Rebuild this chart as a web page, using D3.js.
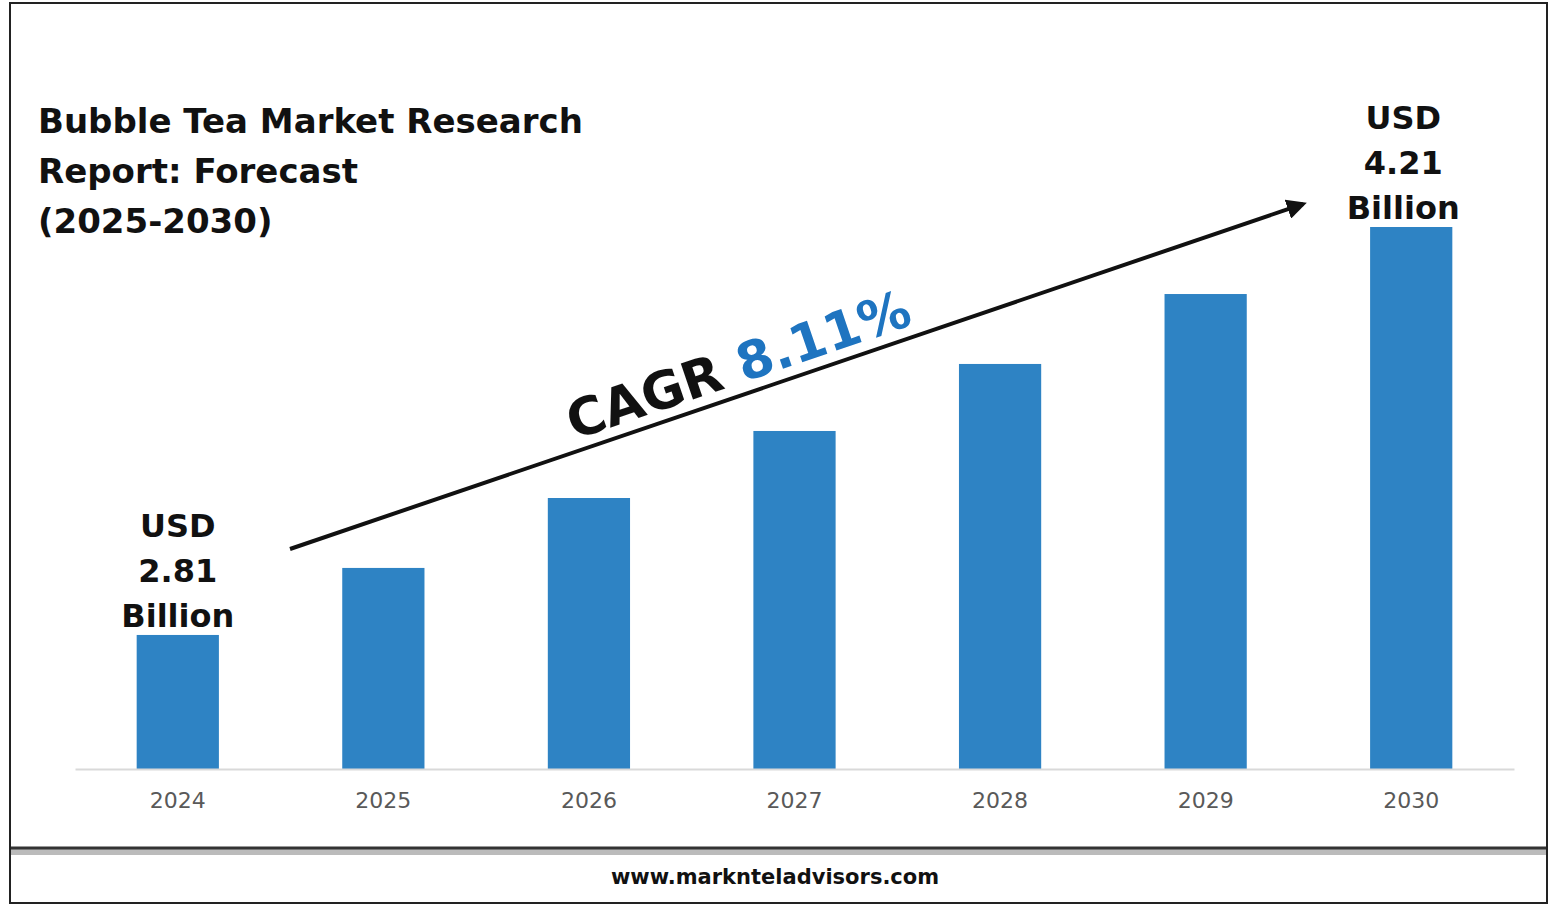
<!DOCTYPE html>
<html><head><meta charset="utf-8">
<script src="https://cdn.jsdelivr.net/npm/d3@7"></script>
<style>body{margin:0;background:#fff}svg{display:block}</style>
</head><body>
<svg id="c" width="1557" height="907"></svg>
<script>
const years = ["2024","2025","2026","2027","2028","2029","2030"];
const values = [2.81, 3.04, 3.28, 3.51, 3.74, 3.98, 4.21];

const svg = d3.select("#c");
const font = "'DejaVu Sans', Verdana, sans-serif";

svg.append("rect").attr("x",10).attr("y",3).attr("width",1537).attr("height",900)
  .attr("fill","#fff").attr("stroke","#222").attr("stroke-width",2);
// footer divider with shadow
svg.append("rect").attr("x",11).attr("y",849).attr("width",1535).attr("height",6).attr("fill","#bbb");
svg.append("line").attr("x1",11).attr("x2",1546).attr("y1",848).attr("y2",848).attr("stroke","#333").attr("stroke-width",3);
svg.append("text").attr("x",775).attr("y",884).attr("text-anchor","middle")
  .attr("font-family",font).attr("font-weight","bold").attr("font-size",21).attr("fill","#111")
  .text("www.marknteladvisors.com");

const x = d3.scaleBand().domain(years).range([75,1514]).paddingInner(0.6).paddingOuter(0.3);
const y = d3.scaleLinear().domain([2.35, 4.21]).range([769, 227]);

svg.selectAll(".bar").data(years).enter().append("rect")
  .attr("x", d => x(d)).attr("width", x.bandwidth())
  .attr("y", (d,i) => y(values[i])).attr("height", (d,i) => 769 - y(values[i]))
  .attr("fill","#2e83c4");

const ax = svg.append("g").attr("transform","translate(0,769)").call(d3.axisBottom(x).tickSize(0));
ax.select(".domain").attr("stroke","#d9d9d9").attr("stroke-width",2);
ax.selectAll("text").attr("font-family",font).attr("font-size",22).attr("fill","#595959").attr("dy","1.65em");

// title
["Bubble Tea Market Research","Report: Forecast","(2025-2030)"].forEach((t,i) =>
  svg.append("text").attr("x",38).attr("y",133+i*50).attr("font-family",font).attr("font-weight","bold")
    .attr("font-size",34).attr("fill","#111").text(t));

function label(cx, top, v) {
  ["USD", v, "Billion"].forEach((t,i) =>
    svg.append("text").attr("x",cx).attr("y",top+i*45).attr("text-anchor","middle")
      .attr("font-family",font).attr("font-weight","bold").attr("font-size",32).attr("fill","#111").text(t));
}
label(x("2024")+x.bandwidth()/2, 537, values[0].toFixed(2));
label(x("2030")+x.bandwidth()/2 - 8, 129, values[6].toFixed(2));

// arrow
svg.append("defs").append("marker").attr("id","ah").attr("viewBox","0 0 10 10").attr("refX",8).attr("refY",5)
  .attr("markerWidth",5).attr("markerHeight",5).attr("orient","auto")
  .append("path").attr("d","M0,0L10,5L0,10z").attr("fill","#111");
svg.append("line").attr("x1",290).attr("y1",549).attr("x2",1303).attr("y2",204)
  .attr("stroke","#111").attr("stroke-width",4).attr("marker-end","url(#ah)");

const ang = Math.atan2(204-549, 1303-290) * 180 / Math.PI;
const ct = svg.append("text").attr("transform",`translate(574,440) rotate(${ang})`)
  .attr("font-family",font).attr("font-size",52).attr("font-weight",600).attr("fill","#111");
ct.append("tspan").text("CAGR ");
ct.append("tspan").attr("fill","#1e74c0").attr("font-weight","bold").text("8.11%");
</script>
</body></html>
